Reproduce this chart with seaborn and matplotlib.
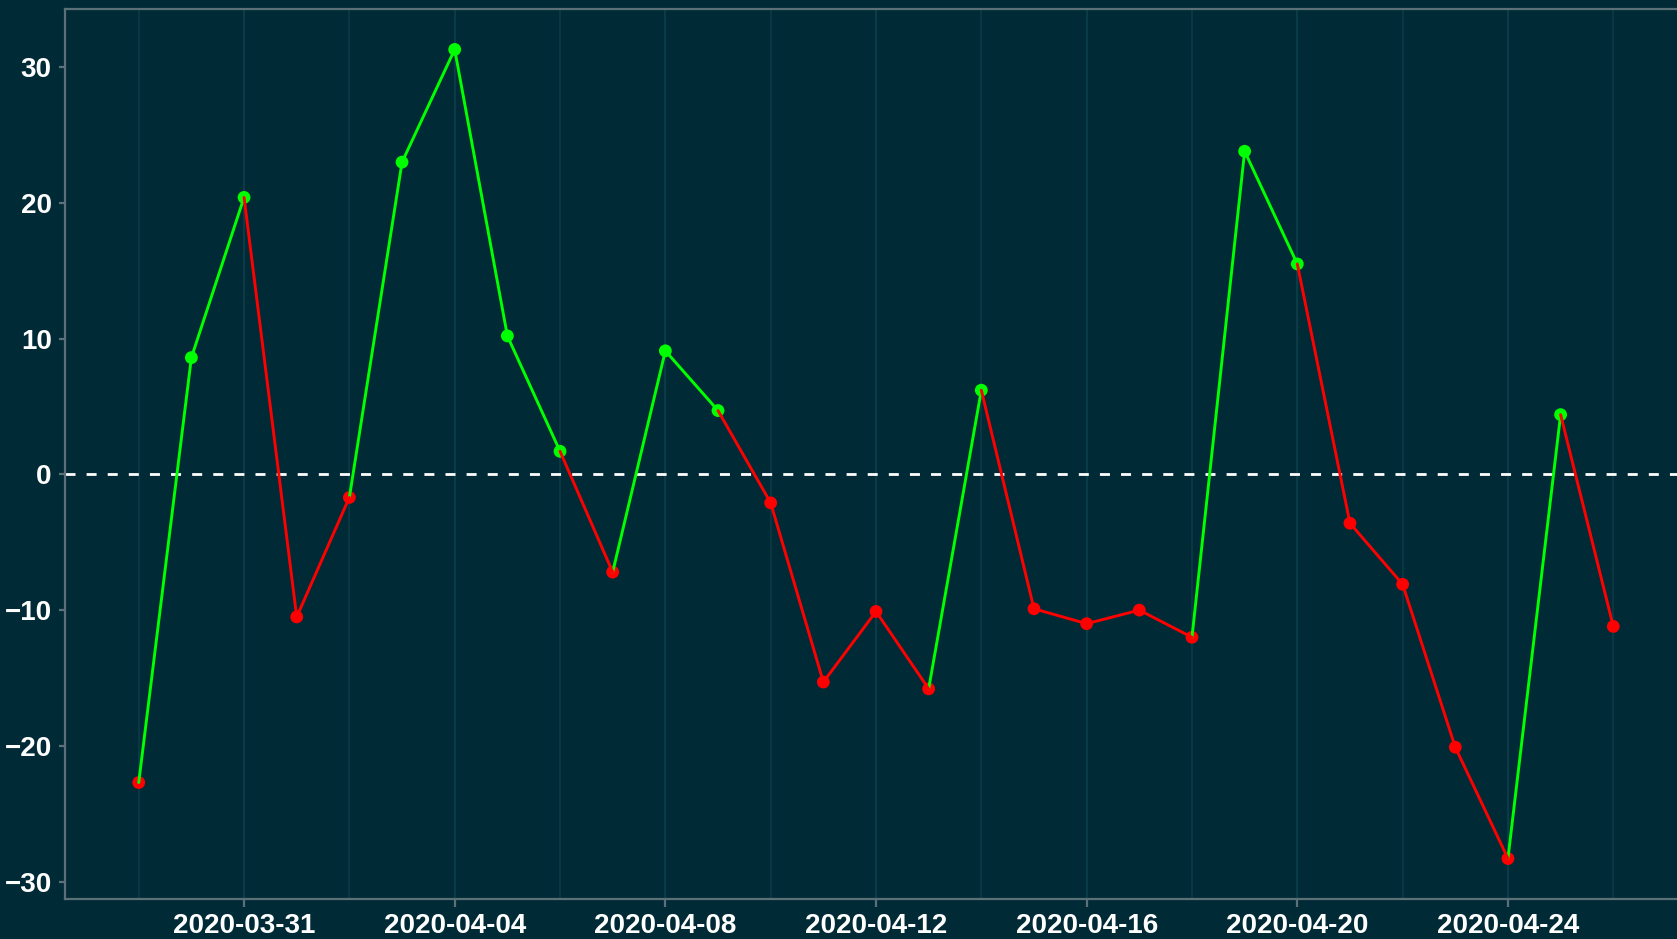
import pandas as pd
import matplotlib
matplotlib.use("Agg")
import matplotlib.pyplot as plt
import matplotlib.dates as mdates
import seaborn as sns

# daily change values, 2020-03-29 .. 2020-04-26
start_date = "2020-03-29"
values = [-22.7, 8.6, 20.4, -10.5, -1.7, 23.0, 31.3, 10.2, 1.7, -7.2,
          9.1, 4.7, -2.1, -15.3, -10.1, -15.8, 6.2, -9.9, -11.0, -10.0,
          -12.0, 23.8, 15.5, -3.6, -8.1, -20.1, -28.3, 4.4, -11.2]
y_ticks = [-30, -20, -10, 0, 10, 20, 30]

BG = "#002b36"
GRID = "#0b3b47"
AXIS = "#5c7177"
palette = {"up": "#00ff00", "down": "#ff0000"}

dates = pd.date_range(start_date, periods=len(values), freq="D")
df = pd.DataFrame({"date": dates, "value": values})
df["sign"] = ["up" if v > 0 else "down" for v in values]

# each segment takes the colour of the point it ends on
rows = []
for i in range(1, len(df)):
    for j in (i - 1, i):
        rows.append({"date": df["date"][j], "value": df["value"][j],
                     "seg": i, "sign": df["sign"][i]})
seg_df = pd.DataFrame(rows)

sns.set_theme(style="dark")
plt.rcParams["font.family"] = ["Liberation Sans", "DejaVu Sans"]
plt.rcParams["font.weight"] = "bold"

fig = plt.figure(figsize=(16.77, 9.39), dpi=100, facecolor=BG)
# panel runs a little past the right edge of the image, as in the original
ax = fig.add_axes([65 / 1677, 1 - 899 / 939, (1687 - 65) / 1677, (899 - 9) / 939])
ax.set_facecolor(BG)

ax.axhline(0, color="white", linewidth=2, linestyle=(0, (3.6, 4.0)), zorder=1.5)

sns.scatterplot(data=df, x="date", y="value", hue="sign", palette=palette,
                s=85, linewidth=0, legend=False, zorder=2, ax=ax)
sns.lineplot(data=seg_df, x="date", y="value", hue="sign", units="seg",
             estimator=None, sort=False, palette=palette, linewidth=2.1,
             legend=False, zorder=3, ax=ax)

span = dates[-1] - dates[0]
ax.set_xlim(dates[0] - span * 0.05, dates[-1] + span * 0.05)
vmin, vmax = min(values), max(values)
ax.set_ylim(vmin - (vmax - vmin) * 0.05, vmax + (vmax - vmin) * 0.05)

ax.set_xticks(pd.date_range("2020-03-31", dates[-1], freq="4D"))
ax.set_xticks(pd.date_range(start_date, dates[-1], freq="4D"), minor=True)
ax.xaxis.set_major_formatter(mdates.DateFormatter("%Y-%m-%d"))
ax.set_yticks(y_ticks)

ax.grid(False)
ax.xaxis.grid(True, which="major", color=GRID, linewidth=1.6, zorder=0)
ax.xaxis.grid(True, which="minor", color=GRID, linewidth=1.2, zorder=0)
ax.set_axisbelow(True)

for side in ["left", "bottom", "top", "right"]:
    ax.spines[side].set_color(AXIS)
    ax.spines[side].set_linewidth(1.6)
    ax.spines[side].set_visible(True)

ax.tick_params(axis="x", which="major", length=5.5, width=1.6, color=AXIS,
               pad=4.5, labelsize=20, labelcolor="white", bottom=True)
ax.tick_params(axis="x", which="minor", length=0)
ax.tick_params(axis="y", length=4.5, width=1.6, color=AXIS, pad=5,
               labelsize=20, labelcolor="white", left=True)
for lab in ax.get_xticklabels() + ax.get_yticklabels():
    lab.set_fontweight("bold")

ax.set_xlabel("")
ax.set_ylabel("")

fig.savefig("out.png", dpi=100, facecolor=BG)
